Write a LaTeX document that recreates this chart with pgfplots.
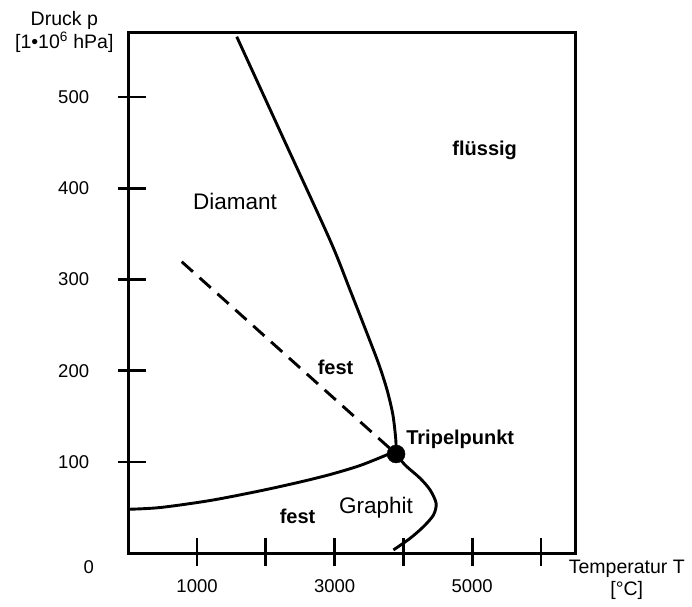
\documentclass[border=0pt]{standalone}
\usepackage{fontspec}
\setmainfont{Liberation Sans}
\usepackage{pgfplots}
\pgfplotsset{compat=1.18}
\begin{document}
\begin{tikzpicture}
\begin{axis}[
  scale only axis, width=447bp, height=521bp,
  xmin=0, xmax=6500, ymin=0, ymax=571,
  axis line style={line width=2.9bp},
  tick style={black, line width=2.7bp},
  xtick style={black, line width=2.7bp, yshift=1.5bp},
  ytick style={black, line width=2.7bp, xshift=4bp},
  tick align=center, major tick length=28bp,
  xtick pos=bottom, ytick pos=left,
  xtick={1000,2000,3000,4000,5000,6000},
  xticklabels={1000,,3000,,5000,},
  ytick={100,200,300,400,500},
  yticklabels={100,200,300,400,500},
  ticklabel style={font=\fontsize{18.5bp}{22bp}\selectfont},
  yticklabel style={anchor=east, inner sep=0pt, xshift=-25bp},
  xticklabel style={anchor=north, inner sep=0pt, yshift=-12.5bp},
  xlabel={Temperatur T\\{}[°C]},
  ylabel={Druck p\\{}[1•10\textsuperscript{6} hPa]},
  every axis x label/.style={at={(rel axis cs:1,0)}, anchor=center, xshift=51.5bp, yshift=-27bp, align=center, inner sep=0pt, font=\fontsize{19.5bp}{22bp}\selectfont},
  every axis y label/.style={at={(rel axis cs:0,1)}, anchor=center, xshift=-64bp, yshift=0bp, align=center, inner sep=0pt, font=\fontsize{19.5bp}{23bp}\selectfont},
  clip=false,
]
% Diamant / fluessig boundary
\addplot[line width=2.9bp, smooth, black] coordinates {
 (1577,566.1) (2265,453.0) (2934,343.0) (3226,288.2) (3509,233.7) (3647,206.3) (3763,178.9) (3848,151.5) (3890,124.1) (3894,108.8)
};
% Graphit / Diamant boundary
\addplot[line width=2.9bp, smooth, black] coordinates {
 (0,48.2) (461,50.1) (1189,57.8) (1916,68.4) (2498,78.1) (2935,86.3) (3371,96.2) (3807,109.3) (3894,112.1)
};
% Graphit / fluessig boundary
\addplot[line width=2.9bp, smooth, black] coordinates {
 (3894,108.8) (4025,96.7) (4244,82.1) (4389,69.3) (4476,54.7) (4437,41.9) (4291,29.1) (4098,16.4) (3855,3.6)
};
% metastable boundary (dashed)
\addplot[line width=2.9bp, black, dash pattern=on 15bp off 9bp] coordinates {
 (777,319.5) (3894,108.8)
};
% triple point
\addplot[only marks, mark=*, mark size=9bp, black] coordinates {(3894,108.8)};
\node[inner sep=0pt, font=\fontsize{22.5bp}{26bp}\selectfont] at (axis cs:1552,385.5) {Diamant};
\node[inner sep=0pt, font=\fontsize{22.5bp}{26bp}\selectfont] at (axis cs:3601,50.1) {Graphit};
\node[inner sep=0pt, font=\fontsize{20bp}{24bp}\selectfont\bfseries] at (axis cs:5182,441.4) {flüssig};
\node[inner sep=0pt, font=\fontsize{20bp}{24bp}\selectfont\bfseries] at (axis cs:3014,203.6) {fest};
\node[inner sep=0pt, font=\fontsize{20bp}{24bp}\selectfont\bfseries] at (axis cs:2461,40.3) {fest};
\node[inner sep=0pt, anchor=west, font=\fontsize{20bp}{24bp}\selectfont\bfseries] at (axis cs:4040,125) {Tripelpunkt};
\node[inner sep=0pt, font=\fontsize{18.5bp}{22bp}\selectfont] at ([xshift=-39.5bp, yshift=-13.5bp]axis cs:0,0) {0};
\end{axis}
\pgfresetboundingbox
\path ([shift={(-128.3bp,-52.75bp)}]current axis.south west) rectangle ([shift={(116.7bp,32.25bp)}]current axis.north east);
\end{tikzpicture}
\end{document}
